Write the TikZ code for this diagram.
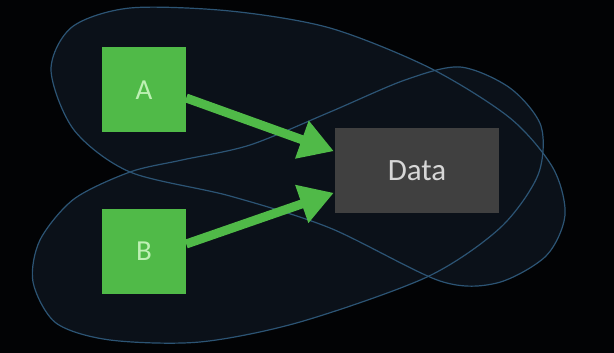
\documentclass[tikz,border=0pt]{standalone}
\usepackage{fontspec}
\setmainfont{Carlito}
\usetikzlibrary{arrows.meta}
\definecolor{bg}{RGB}{2,3,5}
\definecolor{blobfill}{RGB}{11,17,25}
\definecolor{blobline}{RGB}{44,84,116}
\definecolor{grn}{RGB}{80,186,72}
\definecolor{grntext}{RGB}{190,240,180}
\definecolor{databox}{RGB}{64,64,64}
\definecolor{datatext}{RGB}{215,215,215}
\tikzset{
  greenbox/.style={fill=grn, minimum width=84pt, minimum height=85pt, inner sep=0pt,
    text=grntext, font=\fontsize{29}{30}\selectfont},
  databoxstyle/.style={fill=databox, minimum width=164pt, minimum height=85pt, inner sep=0pt,
    text=datatext, font=\fontsize{31}{32}\selectfont},
  blob/.style={fill=blobfill, draw=none},
  blobedge/.style={draw=blobline, line width=1.2pt},
  flow/.style={draw=grn, line width=9pt, -{Triangle[length=34pt,width=38pt]}, shorten >=1pt}
}
\begin{document}
\begin{tikzpicture}[x=1pt,y=-1pt]
\fill[bg] (0,0) rectangle (614,353);
\useasboundingbox (0,0) rectangle (614,353);
% blob shapes
\def\blobA{(51,70) (72,27) (130,8) (230,11) (330,28) (430,68) (510,118) (553,168) (565,215) (546,256) (497,283) (440,281) (330,228) (230,196) (130,172) (74,130)}
\def\blobB{(130,172) (74,199) (40,240) (33,282) (56,323) (110,340) (200,342) (300,322) (427,277) (500,228) (538,175) (541,126) (510,88) (460,67) (405,80) (330,112) (250,145) (182,160)}
\fill[blob] plot[smooth cycle] coordinates \blobB;
\fill[blob] plot[smooth cycle] coordinates \blobA;
\draw[blobedge] plot[smooth cycle] coordinates \blobB;
\draw[blobedge] plot[smooth cycle] coordinates \blobA;
% nodes
\node[greenbox] (A) at (144,90) {A};
\node[greenbox] (B) at (144,251) {B};
\node[databoxstyle] (D) at (417,170.5) {Data};
% connectors
\draw[flow] ([yshift=-8pt]A.east) -- ([yshift=19pt]D.west);
\draw[flow] ([yshift=7pt]B.east) -- ([yshift=-22pt]D.west);
\end{tikzpicture}
\end{document}
